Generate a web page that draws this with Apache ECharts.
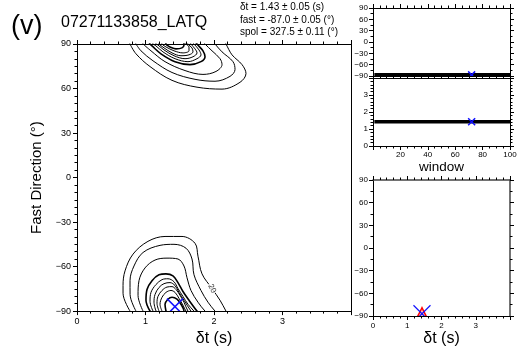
<!DOCTYPE html>
<html><head><meta charset="utf-8">
<script src="https://cdn.jsdelivr.net/npm/echarts@6/dist/echarts.min.js"></script>
<style>html,body{margin:0;padding:0;background:#fff}#c{width:530px;height:352px}</style>
</head><body><div id="c"></div>
<script>
const FONT = '"Liberation Sans", Arial, Helvetica, sans-serif';

// Energy-map contours as closed loops in [dt (s), fast (deg)]; fast is periodic (180 deg),
// points below -90 belong to the part of the loop that wraps to the top of the plot.
const contourA = [[0.774,-90],[0.672,-78],[0.672,-72.8],[0.701,-62.9],[0.818,-51.6],[1.036,-43],[1.285,-39.7],[1.533,-39.7],[1.723,-44.3],[1.766,-53],[1.825,-64.9],[1.971,-74.8],[2.088,-82.7],[2.175,-90],[2.263,-97.3],[2.409,-103.9],[2.467,-109.9],[2.38,-115.8],[2.117,-120.4],[1.752,-119.1],[1.387,-114.5],[1.066,-105.2],[0.861,-96.6],[0.774,-90]];
const contourB = [[0.861,-90],[0.775,-78.8],[0.774,-69.5],[0.832,-59.6],[0.964,-50.5],[1.212,-45.7],[1.416,-45.0],[1.591,-47.6],[1.679,-54.9],[1.708,-65.5],[1.81,-76.1],[1.912,-84.0],[2.015,-90],[2.117,-95.3],[2.277,-101.9],[2.307,-107.2],[2.234,-111.8],[2.015,-115.1],[1.723,-113.8],[1.387,-109.2],[1.109,-101.3],[0.934,-94.6],[0.861,-90]];
const contourC = [[0.964,-90],[0.891,-79.4],[0.905,-69.5],[0.993,-60.9],[1.139,-55.6],[1.314,-54.3],[1.474,-54.9],[1.562,-59.6],[1.606,-67.5],[1.664,-76.1],[1.766,-84.0],[1.869,-90],[1.971,-94.6],[2.088,-99.9],[2.117,-103.9],[2.029,-108.5],[1.839,-110.5],[1.577,-107.9],[1.285,-101.9],[1.08,-94.6],[0.964,-90]];
const contourD = [[1.066,-90],[1.007,-82.7],[1.022,-75.4],[1.095,-69.5],[1.197,-65.5],[1.299,-64.9],[1.401,-66.2],[1.474,-70.8],[1.547,-76.8],[1.635,-82.7],[1.752,-90],[1.839,-94.6],[1.869,-98.6],[1.81,-101.9],[1.65,-103.9],[1.431,-101.9],[1.226,-96.6],[1.095,-91.3],[1.066,-90]];
const contourE = [[1.109,-90],[1.066,-83.4],[1.08,-77.4],[1.153,-72.1],[1.241,-68.8],[1.328,-68.2],[1.416,-70.2],[1.474,-74.8],[1.547,-80.1],[1.62,-85.4],[1.708,-90],[1.781,-94.0],[1.81,-97.3],[1.752,-99.9],[1.62,-101.9],[1.431,-99.9],[1.255,-95.3],[1.153,-91.3],[1.109,-90]];
const contourF = [[1.153,-90],[1.124,-84.0],[1.139,-78.8],[1.197,-74.1],[1.27,-71.5],[1.358,-70.8],[1.431,-72.8],[1.489,-77.4],[1.562,-82.7],[1.664,-90],[1.723,-93.3],[1.752,-96.0],[1.693,-98.6],[1.577,-99.9],[1.416,-97.9],[1.27,-94.0],[1.182,-90.7],[1.153,-90]];
const contourG = [[1.197,-90],[1.168,-84.7],[1.182,-80.1],[1.241,-76.1],[1.314,-73.8],[1.387,-73.5],[1.445,-75.4],[1.504,-79.4],[1.562,-84.0],[1.62,-90],[1.679,-92.6],[1.693,-95.3],[1.635,-97.3],[1.518,-97.9],[1.387,-96.0],[1.27,-92.6],[1.212,-90.7],[1.197,-90]];
const contourH = [[1.241,-90],[1.212,-85.4],[1.241,-80.7],[1.299,-77.4],[1.372,-76.1],[1.431,-77.4],[1.489,-81.4],[1.547,-86.0],[1.591,-90],[1.635,-92.0],[1.635,-94.6],[1.547,-96.0],[1.416,-94.6],[1.299,-92.0],[1.255,-90.7],[1.241,-90]];
const contourI = [[1.299,-90],[1.285,-85.4],[1.328,-82.0],[1.387,-80.7],[1.46,-82.0],[1.518,-85.4],[1.562,-90],[1.562,-90.7],[1.533,-92.6],[1.445,-93.3],[1.358,-92.0],[1.314,-90.7],[1.299,-90]];
const contourList = [contourA, contourB, contourC, contourD, contourE, contourF, contourG, contourH, contourI];
const contourWidths = [1, 1, 1, 1.6, 1, 1, 1, 1, 1.6];
const contourLabel = [[1.971, -74.8, '20']];

// Best solution
const bestPoint = [[1.43, -87.0]];
// Per-window results (cluster analysis panels)
const windowNums = [1, 100];
const windowFast = [-87.0, -87.0];
const windowDt = [1.43, 1.43];
const chosenWindowFast = [[72, -87.0]];
const chosenWindowDt = [[72, 1.43]];

// Tick settings
const phiTicks = [-90, -60, -30, 0, 30, 60, 90];
const dtTicks = [0, 1, 2, 3];
const windowTicks = [20, 40, 60, 80, 100];

const fmtMinus = v => String(v).replace('-', '\u2212');

function axis(o) {
  const base = {
    type: 'value', min: o.min, max: o.max, interval: o.interval,
    gridIndex: o.grid, position: o.position,
    axisLine: {show: true, onZero: false, lineStyle: {color: o.lineColor || '#000', width: o.lineWidth || 1}},
    axisTick: {show: o.ticks !== false, inside: false, length: 4, lineStyle: {color: '#000', width: 1}},
    minorTick: {show: !!o.minor, splitNumber: o.minor || 5, length: 2.5, lineStyle: {color: '#000', width: 1}},
    splitLine: {show: false}, minorSplitLine: {show: false},
    axisLabel: {show: !!o.labels, fontSize: o.fontSize || 9, color: '#000', fontFamily: FONT,
      margin: o.margin || 5, hideOverlap: false, interval: 0,
      formatter: v => (o.labels && o.labels.indexOf(v) >= 0) ? fmtMinus(v) : ''}
  };
  if (o.name) {
    base.name = o.name; base.nameLocation = 'middle'; base.nameGap = o.nameGap;
    base.nameTextStyle = {fontSize: o.nameSize, color: '#000', fontFamily: FONT};
    if (o.nameRotate !== undefined) base.nameRotate = o.nameRotate;
  }
  return base;
}

function cross(xi, yi, data, half, color, lw) {
  return {
    type: 'custom', xAxisIndex: xi, yAxisIndex: yi, clip: true, data: data, z: 10,
    renderItem: function (params, api) {
      const p = api.coord([api.value(0), api.value(1)]);
      return {type: 'group', children: [
        {type: 'line', shape: {x1: p[0]-half, y1: p[1]-half, x2: p[0]+half, y2: p[1]+half}, style: {stroke: color, lineWidth: lw}},
        {type: 'line', shape: {x1: p[0]-half, y1: p[1]+half, x2: p[0]+half, y2: p[1]-half}, style: {stroke: color, lineWidth: lw}}
      ]};
    }
  };
}

const series = [];
contourList.forEach((c, i) => {
  const ls = {color: '#000', width: contourWidths[i]};
  series.push({type: 'line', xAxisIndex: 0, yAxisIndex: 0, data: c, showSymbol: false, symbol: 'none',
    smooth: 0.35, clip: true, lineStyle: ls, silent: true, z: 3});
  series.push({type: 'line', xAxisIndex: 0, yAxisIndex: 0, data: c.map(p => [p[0], p[1] + 180]), showSymbol: false, symbol: 'none',
    smooth: 0.35, clip: true, lineStyle: ls, silent: true, z: 3});
});
series.push({type: 'scatter', xAxisIndex: 0, yAxisIndex: 0, data: contourLabel, symbolSize: 1, itemStyle: {color: 'rgba(0,0,0,0)'}, z: 5,
  label: {show: true, position: 'inside', formatter: p => p.value[2], rotate: -60, fontSize: 8, fontFamily: FONT, color: '#000',
    backgroundColor: '#fff', padding: [0, 1]}});
series.push(cross(0, 0, bestPoint, 8, '#1010ff', 1.5));

// window panels
series.push({type: 'line', xAxisIndex: 2, yAxisIndex: 2, data: windowNums.map((w, i) => [w, windowFast[i]]), showSymbol: false, symbol: 'none',
  clip: false, lineStyle: {color: '#000', width: 3.5}, z: 3});
series.push(cross(2, 2, chosenWindowFast, 3.5, '#1010ff', 1.5));
series.push({type: 'line', xAxisIndex: 4, yAxisIndex: 4, data: windowNums.map((w, i) => [w, windowDt[i]]), showSymbol: false, symbol: 'none',
  clip: false, lineStyle: {color: '#000', width: 3.5}, z: 3});
series.push(cross(4, 4, chosenWindowDt, 3.5, '#1010ff', 1.5));

// bottom-right panel
series.push({
  type: 'custom', xAxisIndex: 6, yAxisIndex: 6, clip: true, data: bestPoint, z: 9,
  renderItem: function (params, api) {
    const p = api.coord([api.value(0), api.value(1)]);
    return {type: 'polygon', shape: {points: [[p[0], p[1]-6], [p[0]-4.5, p[1]+3], [p[0]+4.5, p[1]+3]]},
      style: {fill: 'rgba(255,0,0,0.25)', stroke: '#ff0000', lineWidth: 1.5}};
  }
});
series.push(cross(6, 6, bestPoint, 8.5, '#1010ff', 1.2));

const option = {
  animation: false,
  backgroundColor: '#fff',
  grid: [
    {left: 77, top: 44, width: 274, height: 272},
    {left: 373, top: 8, width: 137, height: 68},
    {left: 373, top: 78, width: 137, height: 68},
    {left: 373, top: 180, width: 137, height: 136}
  ],
  xAxis: [
    axis({grid: 0, min: 0, max: 4, interval: 1, position: 'bottom', minor: 5, labels: dtTicks, margin: 6,
      name: '\u03b4t (s)', nameGap: 13, nameSize: 16}),
    axis({grid: 0, min: 0, max: 4, interval: 1, position: 'top', minor: 5}),
    axis({grid: 1, min: 0, max: 100, interval: 20, position: 'top', minor: 4}),
    axis({grid: 1, min: 0, max: 100, interval: 20, position: 'bottom', ticks: false}),
    axis({grid: 2, min: 0, max: 100, interval: 20, position: 'bottom', minor: 4, labels: windowTicks, fontSize: 8, margin: 5,
      name: 'window', nameGap: 12, nameSize: 13.5}),
    axis({grid: 2, min: 0, max: 100, interval: 20, position: 'top', minor: 4}),
    axis({grid: 3, min: 0, max: 4, interval: 1, position: 'bottom', minor: 5, labels: dtTicks, fontSize: 8, margin: 6,
      name: '\u03b4t (s)', nameGap: 14, nameSize: 16}),
    axis({grid: 3, min: 0, max: 4, interval: 1, position: 'top', minor: 5, lineColor: '#444', lineWidth: 1.5})
  ],
  yAxis: [
    axis({grid: 0, min: -90, max: 90, interval: 30, position: 'left', minor: 6, labels: phiTicks, margin: 6,
      name: 'Fast Direction (\u00b0)', nameGap: 25, nameSize: 15, nameRotate: 90}),
    axis({grid: 0, min: -90, max: 90, interval: 30, position: 'right', ticks: false}),
    axis({grid: 1, min: -90, max: 90, interval: 30, position: 'left', minor: 2, labels: phiTicks, fontSize: 8, margin: 5}),
    axis({grid: 1, min: -90, max: 90, interval: 30, position: 'right', minor: 2}),
    axis({grid: 2, min: 0, max: 4, interval: 1, position: 'left', minor: 5, labels: dtTicks, fontSize: 8, margin: 5}),
    axis({grid: 2, min: 0, max: 4, interval: 1, position: 'right', minor: 5}),
    axis({grid: 3, min: -90, max: 90, interval: 30, position: 'left', minor: 2, labels: phiTicks, fontSize: 8, margin: 5}),
    axis({grid: 3, min: -90, max: 90, interval: 30, position: 'right', minor: 2, lineColor: '#444', lineWidth: 1.5})
  ],
  graphic: [
    {type: 'text', left: 11, top: 13, style: {text: '(v)', font: '27px ' + FONT, fill: '#000'}},
    {type: 'text', left: 61, top: 15, style: {text: '07271133858_LATQ', font: '16px ' + FONT, fill: '#000'}},
    {type: 'text', left: 240, top: 2, style: {text: '\u03b4t = 1.43 \u00b1 0.05 (s)', font: '10px ' + FONT, fill: '#000'}},
    {type: 'text', left: 240, top: 15, style: {text: 'fast = -87.0 \u00b1 0.05 (\u00b0)', font: '10px ' + FONT, fill: '#000'}},
    {type: 'text', left: 240, top: 27, style: {text: 'spol = 327.5 \u00b1 0.11 (\u00b0)', font: '10px ' + FONT, fill: '#000'}}
  ],
  series: series
};

const chart = echarts.init(document.getElementById('c'), null, {renderer: 'canvas', width: 530, height: 352});
chart.setOption(option);
</script>
</body></html>
